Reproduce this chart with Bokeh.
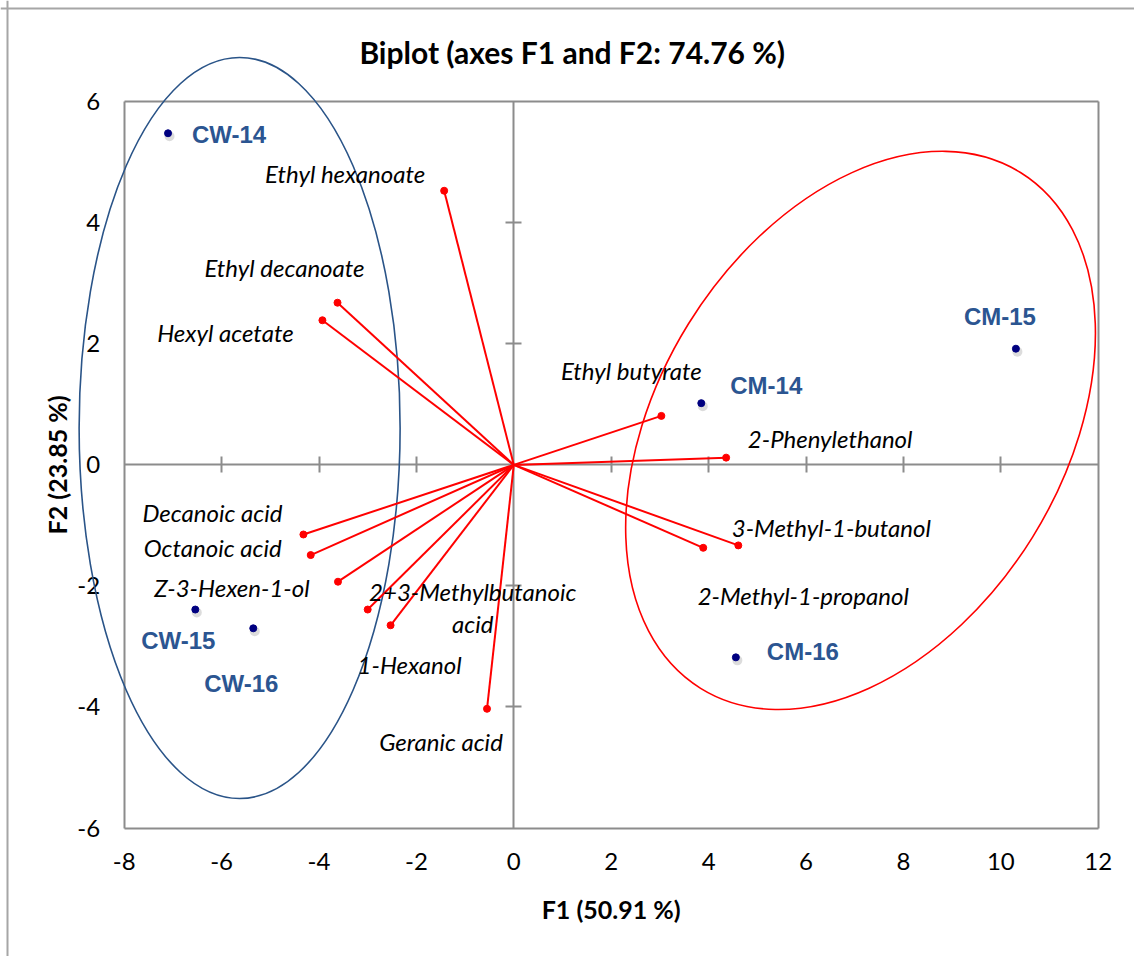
import numpy as np
from bokeh.plotting import figure
from bokeh.models import LinearAxis, FixedTicker, Span, Label, ColumnDataSource
from bokeh.core.properties import value
from bokeh.embed import file_html
from bokeh.resources import INLINE

# ---------------- data ----------------
obs_names = ["CW-14", "CW-15", "CW-16", "CM-14", "CM-15", "CM-16"]
obs_f1 = [-7.10, -6.54, -5.35, 3.85, 10.31, 4.56]
obs_f2 = [5.48, -2.39, -2.70, 1.02, 1.92, -3.18]

var_names = ["Ethyl hexanoate", "Ethyl decanoate", "Hexyl acetate", "Ethyl butyrate",
             "2-Phenylethanol", "3-Methyl-1-butanol", "2-Methyl-1-propanol",
             "Decanoic acid", "Octanoic acid", "Z-3-Hexen-1-ol",
             "2+3-Methylbutanoic\nacid", "1-Hexanol", "Geranic acid"]
var_f1 = [-1.43, -3.62, -3.93, 3.03, 4.36, 4.61, 3.89, -4.32, -4.17, -3.61, -3.00, -2.53, -0.55]
var_f2 = [4.53, 2.68, 2.39, 0.81, 0.12, -1.33, -1.37, -1.15, -1.49, -1.93, -2.39, -2.65, -4.03]

x_ticks = [-8, -6, -4, -2, 0, 2, 4, 6, 8, 10, 12]
y_ticks = [-6, -4, -2, 0, 2, 4, 6]

title_text = "Biplot (axes F1 and F2: 74.76 %)"
xlabel_text = "F1 (50.91 %)"
ylabel_text = "F2 (23.85 %)"

# group ellipses (centre in data units)
ell_cx = [-5.63, 7.12]
ell_cy = [0.61, 0.57]

# ---------------- layout / style ----------------
W, H = 1134, 956
X_LO, X_HI = -8, 12
Y_LO, Y_HI = -6, 6
SX, SY = 48.7, 60.52            # px per data unit
X0PX, Y0PX = 513.3, 464.4       # pixel of data origin in the canvas
x_range = ((0 - X0PX) / SX, (W - X0PX) / SX)
y_range = ((Y0PX - H) / SY, Y0PX / SY)

ell_w = [321, 607]          # screen px
ell_h = [741, 405]
ell_angle = [0.0, np.deg2rad(58.2)]
ell_colors = ["#2a5488", "#ff0000"]

# label offsets in pixels (dx right, dy down)
obs_dx = [61, -17, -12, 65, -16, 67]
obs_dy = [1, 31, 55, -18, -32, -6]
var_dx = [-99, -53, -97, -30, 104, 93, 100, -91, -98, -106, 105, 19, -46]
var_dy = [-17, -35, 12, -45, -19, -18, 48, -22, -8, 6, -2, 39, 33]

AX_COL = "#8c8c8c"
LBL_BLUE = "#2b5591"
FONT = "Lato"

p = figure(width=W, height=H, x_range=x_range, y_range=y_range,
           x_axis_type=None, y_axis_type=None, toolbar_location=None,
           output_backend="svg", min_border=0, outline_line_color=None,
           background_fill_color="white", border_fill_color="white")


def axis(loc, ticks, side, labels=False, tin=0, tout=0, dim="x"):
    ax = LinearAxis(fixed_location=loc, ticker=FixedTicker(ticks=ticks),
                    bounds=(X_LO, X_HI) if dim == "x" else (Y_LO, Y_HI),
                    axis_line_color=AX_COL, axis_line_width=2,
                    major_tick_line_color=AX_COL, major_tick_line_width=2,
                    major_tick_in=tin, major_tick_out=tout,
                    minor_tick_in=0, minor_tick_out=0, minor_tick_line_color=None)
    if labels:
        ax.major_label_text_font = FONT
        ax.major_label_text_font_size = "24px"
        ax.major_label_text_color = "black"
        ax.major_label_overrides = {t: str(t) for t in ticks}
    else:
        ax.major_label_text_color = None
        ax.major_label_text_font_size = "0px"
    ax.level = "underlay"
    p.add_layout(ax, side)
    return ax


bx = axis(Y_LO, x_ticks, "below", labels=True, dim="x")
bx.major_label_standoff = 25
axis(Y_HI, [], "above", dim="x")
ly = axis(X_LO, y_ticks, "left", labels=True, dim="y")
ly.major_label_standoff = 24
axis(X_HI, [], "right", dim="y")
axis(0, [t for t in x_ticks if t not in (X_LO, 0, X_HI)], "below", tin=8, tout=8, dim="x")
axis(0, [t for t in y_ticks if t not in (Y_LO, 0, Y_HI)], "left", tin=8, tout=8, dim="y")

# outer chart border (only top and left visible in the crop)
p.add_layout(Span(location=x_range[0] + 7 / SX, dimension="height",
                  line_color="#a6a6a6", line_width=2))
p.add_layout(Span(location=y_range[1] - 8 / SY, dimension="width",
                  line_color="#a6a6a6", line_width=2))

# ellipses
p.ellipse(x=ell_cx, y=ell_cy, width=ell_w, height=ell_h, angle=ell_angle,
          width_units="screen", height_units="screen",
          fill_color=None, line_color=ell_colors, line_width=1.6)

# vectors
vsrc = ColumnDataSource(dict(x0=[0] * len(var_f1), y0=[0] * len(var_f2),
                             x=var_f1, y=var_f2, name=var_names,
                             dx=var_dx, dy=var_dy))
p.segment(x0="x0", y0="y0", x1="x", y1="y", source=vsrc, line_color="#ff0000", line_width=2)
p.scatter(x="x", y="y", source=vsrc, size=7, fill_color="#ff0000", line_color="#ff0000")
p.text(x="x", y="y", text="name", source=vsrc, x_offset="dx", y_offset="dy",
       text_font=value(FONT), text_font_style="italic", text_font_size="24px",
       text_align="center", text_baseline="middle", text_color="black",
       text_line_height=1.1)

# observations (with a soft drop shadow like the original)
osrc = ColumnDataSource(dict(x=obs_f1, y=obs_f2, name=obs_names, dx=obs_dx, dy=obs_dy,
                             sx=[v + 1.5 / SX for v in obs_f1],
                             sy=[v - 3.0 / SY for v in obs_f2]))
p.scatter(x="sx", y="sy", source=osrc, size=10, fill_color="#9a9a9a", fill_alpha=0.35,
          line_color=None)
p.scatter(x="x", y="y", source=osrc, size=7, fill_color="#000080", line_color="#000080")
p.text(x="x", y="y", text="name", source=osrc, x_offset="dx", y_offset="dy",
       text_font=value("Liberation Sans"), text_font_style="bold", text_font_size="24px",
       text_align="center", text_baseline="middle", text_color=LBL_BLUE)

# titles
p.add_layout(Label(x=1.2, y=6.83, text=title_text, text_font=FONT, text_font_style="bold",
                   text_font_size="30px", text_align="center", text_baseline="middle",
                   text_color="black"))
p.add_layout(Label(x=2.0, y=-7.33, text=xlabel_text, text_font=FONT, text_font_style="bold",
                   text_font_size="25px", text_align="center", text_baseline="middle",
                   text_color="black"))
p.add_layout(Label(x=-9.37, y=0.0, text=ylabel_text, text_font=FONT, text_font_style="bold",
                   text_font_size="25px", text_align="center", text_baseline="middle",
                   angle=np.pi / 2, text_color="black"))

open("out.html", "w").write(file_html(p, INLINE))
